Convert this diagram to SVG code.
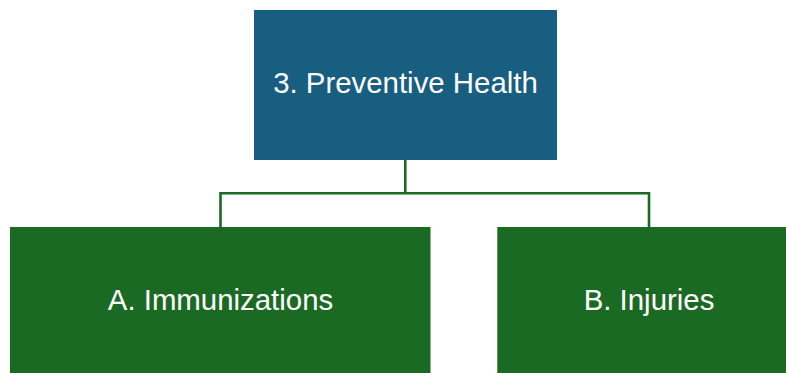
<svg xmlns="http://www.w3.org/2000/svg" width="786" height="373" viewBox="0 0 786 373">
  <style>
    .root { fill: #175E80; }
    .leaf { fill: #1B6A24; }
    .label { font-family: "Liberation Sans", Arial, sans-serif; font-size: 29.4px; fill: #ffffff; text-anchor: middle; }
    .wire { fill: none; stroke: #1B6A24; stroke-width: 2.6; }
  </style>
  <rect width="786" height="373" fill="#ffffff"/>
  <g id="connectors">
    <path class="wire" d="M405.3 160 V193.3 M220.5 227 V193.3 H649 V227"/>
  </g>
  <g id="preventive-health">
    <rect class="root" x="254" y="10" width="303" height="150"/>
    <text class="label" x="405.5" y="93.4">3. Preventive Health</text>
  </g>
  <g id="immunizations">
    <rect class="leaf" x="10" y="227" width="420.5" height="150"/>
    <text class="label" x="220.5" y="309.8">A. Immunizations</text>
  </g>
  <g id="injuries">
    <rect class="leaf" x="497.3" y="227" width="295" height="150"/>
    <text class="label" x="649" y="309.8">B. Injuries</text>
  </g>
</svg>
